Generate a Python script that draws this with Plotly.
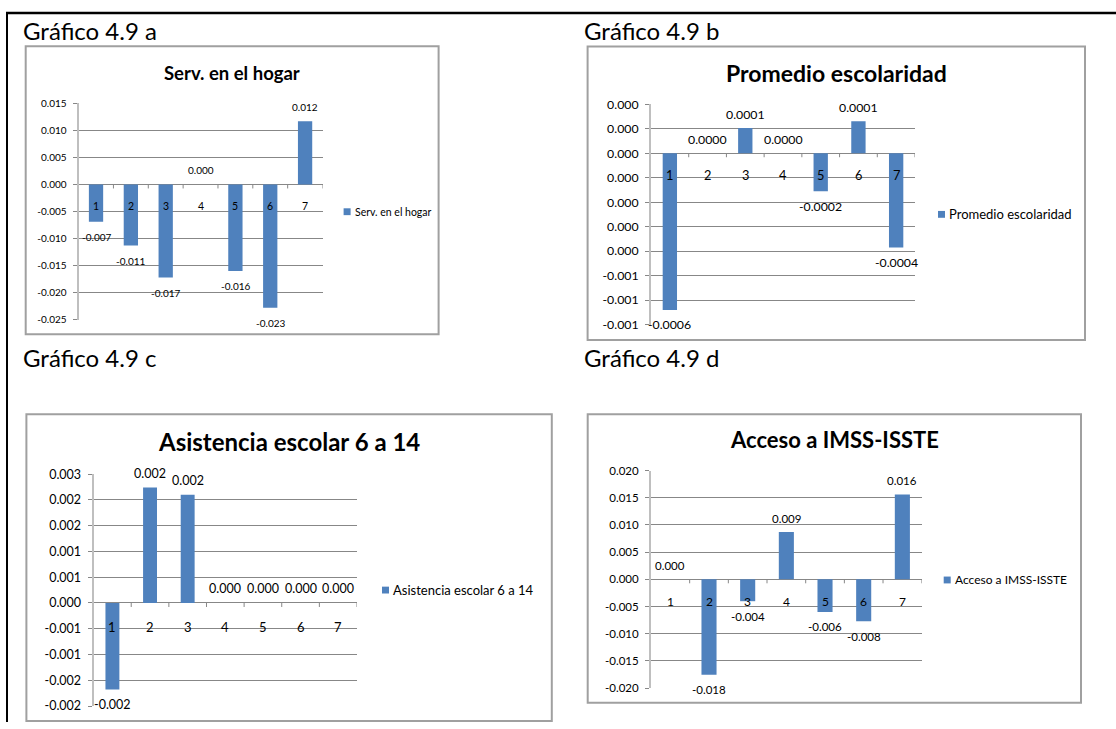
import plotly.graph_objects as go

W, H = 1116, 729

# ---------------- data ----------------
categories = ["1", "2", "3", "4", "5", "6", "7"]

serv_hogar = [-0.0069, -0.0113, -0.0172, 0.0, -0.0160, -0.0228, 0.0117]
prom_escolaridad = [-0.00064, 0.0, 0.000103, 0.0, -0.000155, 0.000131, -0.000385]
asistencia = [-0.00168, 0.00224, 0.00210, 0.0, 0.0, 0.0, 0.0]
acceso_imss = [0.0, -0.01754, -0.00403, 0.0087, -0.0060, -0.0077, 0.0156]

a_tickvals = [0.015, 0.010, 0.005, 0.0, -0.005, -0.010, -0.015, -0.020, -0.025]
a_ticktext = ["0.015", "0.010", "0.005", "0.000", "-0.005", "-0.010", "-0.015", "-0.020", "-0.025"]

b_tickvals = [0.0002, 0.0001, 0.0, -0.0001, -0.0002, -0.0003, -0.0004, -0.0005, -0.0006, -0.0007]
b_ticktext = ["0.000", "0.000", "0.000", "0.000", "0.000", "0.000", "0.000", "-0.001", "-0.001", "-0.001"]

c_tickvals = [0.0025, 0.002, 0.0015, 0.001, 0.0005, 0.0, -0.0005, -0.001, -0.0015, -0.002]
c_ticktext = ["0.003", "0.002", "0.002", "0.001", "0.001", "0.000", "-0.001", "-0.001", "-0.002", "-0.002"]

d_tickvals = [0.020, 0.015, 0.010, 0.005, 0.0, -0.005, -0.010, -0.015, -0.020]
d_ticktext = ["0.020", "0.015", "0.010", "0.005", "0.000", "-0.005", "-0.010", "-0.015", "-0.020"]

series_names = ["Serv. en el hogar", "Promedio escolaridad", "Asistencia escolar 6 a 14", "Acceso a IMSS-ISSTE"]
headings = ["Gráfico 4.9 a", "Gráfico 4.9 b", "Gráfico 4.9 c", "Gráfico 4.9 d"]
label_decimals = [3, 4, 3, 3]

# ---------------- layout / style (pixels) ----------------
FONT = "Lato, 'Open Sans', sans-serif"
BLUE = "#4F81BD"
GRID = "#878787"
AXIS = "#BFBFBF"

panels = [
    dict(values=serv_hogar, tv=a_tickvals, tt=a_ticktext,
         box=(25.7, 39, 438.6, 333), plot=(78.6, 97.3, 322.5, 318.3),
         title_xy=(232, 66), title_size=18.5, legend_xy=(343.6, 208), legend_size=10.5,
         tick_size=10, heading_xy=(21, 23), barw=0.41, cat_shift=-22),
    dict(values=prom_escolaridad, tv=b_tickvals, tt=b_ticktext,
         box=(587.6, 39.3, 1085, 339), plot=(651, 98.3, 915, 323.3),
         title_xy=(836.7, 66), title_size=23, legend_xy=(938, 210.7), legend_size=13,
         tick_size=12.3, heading_xy=(582, 23), barw=0.38, cat_shift=-22),
    dict(values=asistencia, tv=c_tickvals, tt=c_ticktext,
         box=(26.4, 414.7, 551.8, 728), plot=(93.6, 476, 357, 712.7),
         title_xy=(289, 442.7), title_size=24, legend_xy=(382, 594.3), legend_size=13,
         tick_size=12.5, heading_xy=(21, 357), barw=0.37, cat_shift=-24),
    dict(values=acceso_imss, tv=d_tickvals, tt=d_ticktext,
         box=(587.7, 414.7, 1081, 709.3), plot=(651, 472.3, 921.7, 694.3),
         title_xy=(834, 440.7), title_size=22, legend_xy=(943.7, 584), legend_size=12,
         tick_size=11.5, heading_xy=(582, 357), barw=0.39, cat_shift=-22),
]


def px(x):
    return x / W


def py(y):
    return 1 - y / H


fig = go.Figure()
shapes = []
annotations = []

for i, p in enumerate(panels):
    n = "" if i == 0 else str(i + 1)
    xa, ya = "x" + n, "y" + n
    vals = p["values"]
    idx = list(range(len(categories)))
    fig.add_trace(go.Bar(
        x=idx, y=vals, name=series_names[i], width=p["barw"],
        marker=dict(color=BLUE, line=dict(width=0)),
        xaxis=xa, yaxis=ya, showlegend=False, hovertext=categories,
    ))
    x0, y0, x1, y1 = p["plot"]
    fig.layout["xaxis" + n] = dict(
        domain=[px(x0), px(x1)], anchor=ya,
        range=[-0.5, len(categories) - 0.5], showticklabels=False,
        showgrid=False, zeroline=False, showline=False, ticks="", fixedrange=True,
    )
    fig.layout["yaxis" + n] = dict(
        domain=[py(y1), py(y0)], anchor=xa,
        range=[min(p["tv"]), max(p["tv"])],
        tickmode="array", tickvals=p["tv"], ticktext=p["tt"],
        showgrid=True, gridcolor=GRID, gridwidth=1,
        zeroline=True, zerolinecolor=GRID, zerolinewidth=1,
        showline=True, linecolor=AXIS, linewidth=2,
        ticks="outside", ticklen=4, tickcolor=GRID, tickwidth=1,
        ticklabelstandoff=4,
        tickfont=dict(family=FONT, size=p["tick_size"], color="#000000"),
        fixedrange=True,
    )
    # data labels
    dec = label_decimals[i]
    for k, v in zip(idx, vals):
        annotations.append(dict(
            x=k, y=v, xref=xa, yref=ya, text=f"{v:.{dec}f}", showarrow=False,
            yshift=(14 if v >= 0 else -15),
            font=dict(family=FONT, size=p["tick_size"], color="#000000"),
        ))
    # category labels at zero line
    for k, c in zip(idx, categories):
        annotations.append(dict(
            x=k, y=0, xref=xa, yref=ya, text=c, showarrow=False,
            yshift=p["cat_shift"],
            font=dict(family=FONT, size=p["tick_size"] + 0.5, color="#000000"),
        ))
    # small tick marks on the horizontal axis between categories
    for k in idx:
        shapes.append(dict(
            type="line", xref=xa, yref=ya, x0=k + 0.5, x1=k + 0.5,
            ysizemode="pixel", yanchor=0, y0=0, y1=-4,
            line=dict(color=GRID, width=1),
        ))
    # chart box
    bx0, by0, bx1, by1 = p["box"]
    shapes.append(dict(
        type="rect", xref="paper", yref="paper",
        x0=px(bx0), x1=px(bx1), y0=py(by1), y1=py(by0),
        line=dict(color="#A0A0A0", width=2), fillcolor="rgba(0,0,0,0)",
    ))
    # chart title
    tx, ty = p["title_xy"]
    annotations.append(dict(
        x=px(tx), y=py(ty), xref="paper", yref="paper", text=series_names[i],
        showarrow=False, xanchor="center", yanchor="middle",
        font=dict(family=FONT, size=p["title_size"], color="#000000", weight=700),
    ))
    # legend (manual)
    lx, ly = p["legend_xy"]
    sq = 7
    shapes.append(dict(
        type="rect", xref="paper", yref="paper",
        x0=px(lx), x1=px(lx + sq), y0=py(ly + sq / 2), y1=py(ly - sq / 2),
        line=dict(width=0), fillcolor=BLUE,
    ))
    annotations.append(dict(
        x=px(lx + sq + 2), y=py(ly), xref="paper", yref="paper", text=series_names[i],
        showarrow=False, xanchor="left", yanchor="middle",
        font=dict(family=FONT, size=p["legend_size"], color="#000000"),
    ))
    # heading
    hx, hy = p["heading_xy"]
    annotations.append(dict(
        x=px(hx), y=py(hy), xref="paper", yref="paper", text=headings[i],
        showarrow=False, xanchor="left", yanchor="middle",
        font=dict(family=FONT, size=24, color="#000000"),
    ))

# page frame lines
shapes.append(dict(type="line", xref="paper", yref="paper",
                   x0=px(6), x1=1, y0=py(5), y1=py(5),
                   line=dict(color="#000000", width=2.5)))
shapes.append(dict(type="line", xref="paper", yref="paper",
                   x0=px(7), x1=px(7), y0=py(5), y1=0,
                   line=dict(color="#000000", width=2)))

fig.update_layout(
    width=W, height=H, margin=dict(l=0, r=0, t=0, b=0),
    paper_bgcolor="white", plot_bgcolor="white",
    shapes=shapes, annotations=annotations, showlegend=False,
    font=dict(family=FONT),
)

fig.write_html(
    "out.html",
    config={"displayModeBar": False},
    post_script="document.body.style.margin='0';document.body.style.overflow='hidden';",
)
